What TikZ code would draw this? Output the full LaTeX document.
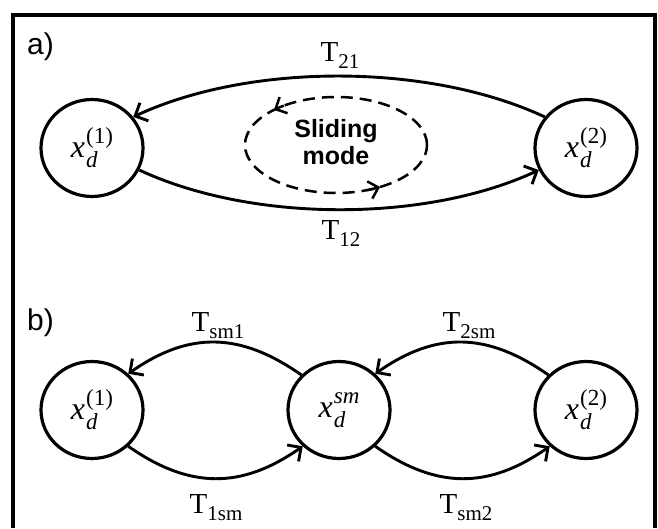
\documentclass[tikz,border=0pt]{standalone}
\usepackage{fontspec}
\setmainfont{Liberation Serif}
\setsansfont{Liberation Sans}
\usetikzlibrary{shapes.geometric,arrows.meta}

\newcommand{\xdlab}[1]{\fontsize{32}{32}\selectfont\textit{x}\kern1pt\rlap{\raisebox{-10pt}{\fontsize{23}{23}\selectfont\textit{d}}}\raisebox{14pt}{\fontsize{23}{23}\selectfont #1}}
\newcommand{\Tlab}[1]{\fontsize{29}{29}\selectfont T\raisebox{-7pt}{\fontsize{21}{21}\selectfont #1}}

\tikzset{
  statenode/.style={ellipse, draw, line width=3.2pt, minimum width=102pt, minimum height=97pt, inner sep=0pt},
  arr/.style={line width=2.9pt, -{Straight Barb[length=10pt,width=20pt]}},
  dasharr/.style={solid, line width=2.5pt, -{Straight Barb[length=9pt,width=18pt]}},
  tlabel/.style={anchor=base, inner sep=0pt},
  panellabel/.style={anchor=base west, inner sep=0pt, font=\sffamily\fontsize{30}{30}\selectfont},
}

\begin{document}
\begin{tikzpicture}[x=1pt,y=1pt]
\useasboundingbox (0,0) rectangle (658,528);
% frame (bottom edge outside the picture)
\draw[line width=3.3pt] (13,0) -- (13,513) -- (655,513) -- (655,0);

\node[panellabel] (la) at (27,473) {a)};
\node[panellabel] (lb) at (27,198) {b)};

% panel a
\node[statenode] (a1) at (92,380) {\xdlab{(1)}};
\node[statenode] (a2) at (586,380) {\xdlab{(2)}};

\draw[arr] (a2.143) to[out=155,in=25,looseness=0.8] (a1.37);
\draw[arr] (a1.-25) to[out=-25,in=205,looseness=0.8] (a2.205);

\node[tlabel] (t21) at (340,466) {\Tlab{21}};
\node[tlabel] (t12) at (341,288) {\Tlab{12}};

\node[align=center, inner sep=0pt, font=\sffamily\bfseries\fontsize{25}{27}\selectfont] (sl) at (336,385.5) {Sliding\\mode};
\coordinate (ec) at (336,383);
\draw[line width=2.5pt, dash pattern=on 12pt off 7pt] (ec) ellipse [x radius=91, y radius=48];
\draw[dasharr] ([shift={(125:91pt and 48pt)}]ec) arc[start angle=125, end angle=133, x radius=91, y radius=48];
\draw[dasharr] ([shift={(290:91pt and 48pt)}]ec) arc[start angle=290, end angle=299, x radius=91, y radius=48];

% panel b
\node[statenode] (b1) at (92,118) {\xdlab{(1)}};
\node[statenode] (sm) at (339,118) {\xdlab{\textit{sm}}};
\node[statenode] (b2) at (586,118) {\xdlab{(2)}};

\draw[arr] (sm.137) to[out=145,in=35,looseness=1.1] (b1.45);
\draw[arr] (b1.-45) to[out=-35,in=215,looseness=1.1] (sm.-135);
\draw[arr] (b2.137) to[out=145,in=35,looseness=1.1] (sm.45);
\draw[arr] (sm.-45) to[out=-35,in=215,looseness=1.1] (b2.-135);

\node[tlabel] (tsm1) at (218,197) {\Tlab{sm1}};
\node[tlabel] (t2sm) at (469,197) {\Tlab{2sm}};
\node[tlabel] (t1sm) at (216,15) {\Tlab{1sm}};
\node[tlabel] (tsm2) at (466,15) {\Tlab{sm2}};
\end{tikzpicture}
\end{document}
